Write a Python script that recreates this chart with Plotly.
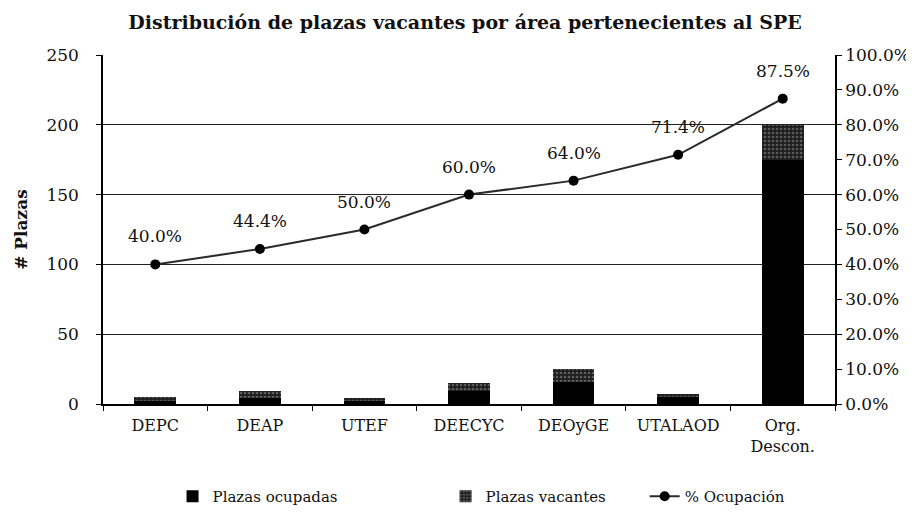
import plotly.graph_objects as go

categories = ["DEPC", "DEAP", "UTEF", "DEECYC", "DEOyGE", "UTALAOD", "Org.<br>Descon."]
ocupadas = [2, 4, 2, 9, 16, 5, 175]
vacantes = [3, 5, 2, 6, 9, 2, 25]
ocupacion = [0.40, 0.444, 0.50, 0.60, 0.64, 0.714, 0.875]
ocupacion_labels = ["40.0%", "44.4%", "50.0%", "60.0%", "64.0%", "71.4%", "87.5%"]

FONT = "DejaVu Serif"

fig = go.Figure()
fig.add_trace(go.Bar(
    x=categories, y=ocupadas, name="Plazas ocupadas", legend="legend",
    marker=dict(color="#000000", line=dict(width=0)), width=0.4,
))
fig.add_trace(go.Bar(
    x=categories, y=vacantes, name="Plazas vacantes", legend="legend2",
    marker=dict(color="#2a2a2a", line=dict(width=0),
                pattern=dict(shape=".", fgcolor="#9a9a9a", bgcolor="#1e1e1e", size=4, solidity=0.35)),
    width=0.4,
))
fig.add_trace(go.Scatter(
    x=categories, y=ocupacion, name="% Ocupación", yaxis="y2", legend="legend3",
    mode="lines+markers",
    line=dict(color="#2a2a2a", width=2),
    marker=dict(color="#000000", size=10),
))

for c, v, t in zip(categories, ocupacion, ocupacion_labels):
    fig.add_annotation(x=c, y=v, xref="x", yref="y2", text=t, showarrow=False,
                       yshift=28, font=dict(family=FONT, size=17, color="#111"))

legend_common = dict(orientation="h", y=-0.265, yanchor="middle", xanchor="left",
                     font=dict(family=FONT, size=15, color="#111"), bgcolor="rgba(0,0,0,0)")

fig.update_layout(
    width=914, height=517,
    margin=dict(l=93, r=87, t=47, b=114),
    plot_bgcolor="white", paper_bgcolor="white",
    barmode="stack",
    font=dict(family=FONT, size=16, color="#111"),
    title=dict(text="<b>Distribución de plazas vacantes por área pertenecientes al SPE</b>",
               x=0.5, xanchor="center", y=0.972, yanchor="middle",
               font=dict(family=FONT, size=19, color="#111")),
    xaxis=dict(
        showline=True, linecolor="#000", linewidth=1.5,
        ticks="outside", tickson="boundaries", ticklen=5, tickcolor="#000",
        tickfont=dict(family=FONT, size=16, color="#111"), ticklabelstandoff=6,
        showgrid=False,
    ),
    yaxis=dict(
        range=[0, 250], dtick=50, showline=True, linecolor="#000", linewidth=1.5,
        ticks="outside", ticklen=5, tickcolor="#000", ticklabelstandoff=14,
        showgrid=True, gridcolor="#222", gridwidth=1.2, zeroline=False,
        tickfont=dict(family=FONT, size=17, color="#111"),
        title=dict(text="<b># Plazas</b>", font=dict(family=FONT, size=17, color="#111"), standoff=14),
    ),
    yaxis2=dict(
        range=[0, 1.0], dtick=0.1, tickformat=".1%", overlaying="y", side="right",
        showline=True, linecolor="#000", linewidth=1.5,
        ticks="outside", ticklen=5, tickcolor="#000", showgrid=False, zeroline=False,
        tickfont=dict(family=FONT, size=17, color="#111"),
    ),
    legend=dict(x=0.095, **legend_common),
    legend2=dict(x=0.468, **legend_common),
    legend3=dict(x=0.74, **legend_common),
    showlegend=True,
)

fig.write_html("out.html")
